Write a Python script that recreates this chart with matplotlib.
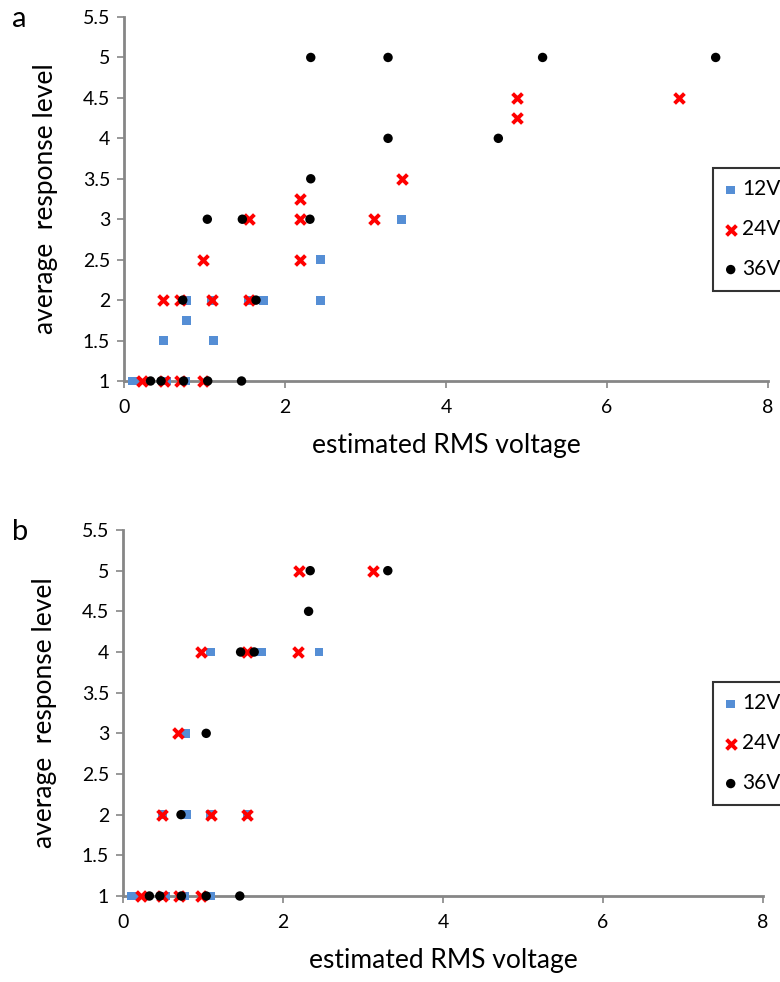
import matplotlib
matplotlib.use("Agg")
import matplotlib.pyplot as plt

plt.rcParams["font.family"] = ["Lato", "DejaVu Sans"]

series_names = ["12V", "24V", "36V"]

# panel a
a_12v_x = [0.10, 0.15, 0.53, 0.49, 0.76, 0.78, 0.78, 1.09, 1.11, 1.55, 1.73, 2.44, 2.44, 3.45]
a_12v_y = [1, 1, 1, 1.5, 1, 1.75, 2, 2, 1.5, 2, 2, 2.5, 2, 3]
a_24v_x = [0.22, 0.50, 0.49, 0.70, 0.69, 0.98, 0.98, 1.09, 1.55, 1.55, 2.19, 2.19, 2.19, 3.10, 3.45, 4.88, 4.88, 6.90]
a_24v_y = [1, 1, 2, 1, 2, 1, 2.5, 2, 2, 3, 3, 3.25, 2.5, 3, 3.5, 4.5, 4.25, 4.5]
a_36v_x = [0.33, 0.46, 0.74, 0.73, 1.04, 1.035, 1.46, 1.47, 1.64, 2.32, 2.32, 2.31, 3.28, 3.28, 4.65, 5.20, 7.35]
a_36v_y = [1, 1, 1, 2, 1, 3, 1, 3, 2, 5, 3.5, 3, 5, 4, 4, 5, 5]

# panel b
b_12v_x = [0.11, 0.15, 0.53, 0.49, 0.77, 0.79, 0.78, 1.10, 1.09, 1.09, 1.55, 1.73, 2.45]
b_12v_y = [1, 1, 1, 2, 1, 2, 3, 1, 2, 4, 2, 4, 4]
b_24v_x = [0.22, 0.49, 0.49, 0.70, 0.69, 0.98, 0.98, 1.10, 1.55, 1.55, 2.19, 2.20, 3.12]
b_24v_y = [1, 1, 2, 1, 3, 1, 4, 2, 2, 4, 4, 5, 5]
b_36v_x = [0.33, 0.46, 0.73, 0.725, 1.04, 1.04, 1.46, 1.47, 1.64, 2.32, 2.34, 3.31]
b_36v_y = [1, 1, 1, 2, 1, 3, 1, 4, 4, 4.5, 5, 5]

x_ticks = [0, 2, 4, 6, 8]
y_ticks = [1, 1.5, 2, 2.5, 3, 3.5, 4, 4.5, 5, 5.5]

W, H = 780, 982
fig = plt.figure(figsize=(W / 100, H / 100), dpi=100)

gray = "#868686"


def draw_panel(rect, xs, ys, label, legend_top):
    ax = fig.add_axes(rect)
    ax.scatter(xs[0], ys[0], marker="s", s=40, color="#558ED5", edgecolors="none",
               label=series_names[0], zorder=3)
    ax.scatter(xs[1], ys[1], marker="x", s=50, color="#FF0000", linewidths=2.8,
               label=series_names[1], zorder=4)
    ax.scatter(xs[2], ys[2], marker="o", s=46, color="black", edgecolors="none",
               label=series_names[2], zorder=5)
    ax.set_xlim(0, 8)
    ax.set_ylim(1, 5.5)
    ax.set_xticks(x_ticks)
    ax.set_yticks(y_ticks)
    ax.set_yticklabels([("%g" % v) for v in y_ticks])
    for s in ["top", "right"]:
        ax.spines[s].set_visible(False)
    for s in ["left", "bottom"]:
        ax.spines[s].set_color(gray)
        ax.spines[s].set_linewidth(2)
    ax.tick_params(direction="out", length=5, width=1.2, color=gray,
                   labelsize=14, pad=5)
    ax.tick_params(axis="x", pad=8)
    ax.set_xlabel("estimated RMS voltage", fontsize=19, labelpad=12)
    ax.set_ylabel("average  response level", fontsize=19, labelpad=18)
    for c in ax.get_children():
        if hasattr(c, "set_clip_on"):
            c.set_clip_on(False)
    leg = fig.legend(loc="upper left", bbox_to_anchor=(713 / W, 1 - legend_top / H),
                     frameon=True, fancybox=False, edgecolor="black", fontsize=15,
                     handletextpad=0.25, handlelength=0.6, labelspacing=0.95,
                     borderpad=0.55, borderaxespad=0,
                     handles=ax.get_legend_handles_labels()[0])
    leg.get_frame().set_linewidth(1.5)
    fig.text(12 / W, 1 - (rect_top_px(rect)) / H, label, fontsize=21, va="center")
    return ax


def rect_top_px(rect):
    return H * (1 - rect[1] - rect[3]) + 2


rect_a = [124 / W, 1 - 381 / H, 644 / W, 364 / H]
rect_b = [123 / W, 1 - 896 / H, 640 / W, 366 / H]

draw_panel(rect_a, [a_12v_x, a_24v_x, a_36v_x], [a_12v_y, a_24v_y, a_36v_y], "a", 168)
draw_panel(rect_b, [b_12v_x, b_24v_x, b_36v_x], [b_12v_y, b_24v_y, b_36v_y], "b", 682)

fig.savefig("out.png", dpi=100)
